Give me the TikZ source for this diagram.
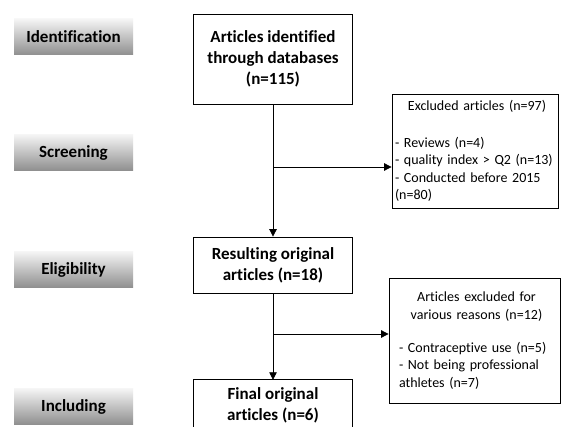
\documentclass[tikz,border=0pt]{standalone}
\usepackage{fontspec}
\setmainfont{Carlito}[Ligatures=NoCommon]
\usetikzlibrary{arrows.meta}
\begin{document}
\begin{tikzpicture}[x=1pt,y=-1pt,
  phase/.style={rectangle, minimum width=119pt, minimum height=36pt, inner sep=0pt,
    top color=black!4, bottom color=black!44,
    font=\fontsize{17}{20}\selectfont\bfseries},
  mainbox/.style={draw, line width=0.8pt, align=center, inner sep=0pt,
    minimum width=159pt, font=\fontsize{17}{21}\selectfont\bfseries},
  plainbox/.style={align=center, inner sep=0pt, minimum width=159pt,
    font=\fontsize{17}{21}\selectfont\bfseries},
  exbox/.style={draw, line width=0.8pt, align=left, inner ysep=0pt,
    font=\fontsize{14}{17.5}\selectfont},
  conn/.style={line width=0.8pt},
  arr/.style={conn, -{Triangle[width=7.5pt,length=7.5pt]}}
]
\clip (0,0) rectangle (564,427);
\fill[white] (0,0) rectangle (564,427);

% phase labels
\node[phase] (hid)   at (73.5,37)    {Identification};
\node[phase] (hscr)  at (73.5,152.5) {Screening};
\node[phase] (helig) at (73.5,269.5) {Eligibility};
\node[phase] (hinc)  at (73.5,406.5) {Including};

% main boxes
\node[mainbox, minimum height=90pt] (b1) at (273,59)
  {Articles identified\\through databases\\(n=115)};
\node[mainbox, minimum height=56pt] (b2) at (273,265)
  {Resulting original\\articles (n=18)};
\node[plainbox, minimum height=50pt] (b3) at (273,405)
  {Final original\\articles (n=6)};
\draw[line width=0.8pt] (b3.north west) rectangle ([yshift=-20pt]b3.south east);

% exclusion boxes
\node[exbox, inner xsep=3pt, text width=160pt, minimum height=114pt] (ex1) at (475,151)
  {\hspace*{4pt}\makebox[156pt][c]{Excluded articles (n=97)}\\[19.5pt]
   - Reviews (n=4)\\
   - quality index > Q2 (n=13)\\
   - Conducted before 2015\\
   (n=80)};
\node[exbox, inner xsep=10pt, text width=151pt, minimum height=125pt] (ex2) at (474.5,340.5)
  {\hspace*{4pt}\makebox[147pt][c]{Articles excluded for}\\
   \hspace*{4pt}\makebox[147pt][c]{various reasons (n=12)}\\[15.5pt]
   - Contraceptive use (n=5)\\
   - Not being professional\\
   athletes (n=7)};

% connectors
\coordinate (j1) at (b1.south |- 0,167);
\coordinate (j2) at (b1.south |- 0,334);
\draw[arr] (b1.south) -- (b1.south |- b2.north);
\draw[arr] (j1) -- (j1 -| ex1.west);
\draw[arr] (b1.south |- b2.south) -- (b1.south |- b3.north);
\draw[arr] (j2) -- (j2 -| ex2.west);
\end{tikzpicture}
\end{document}
